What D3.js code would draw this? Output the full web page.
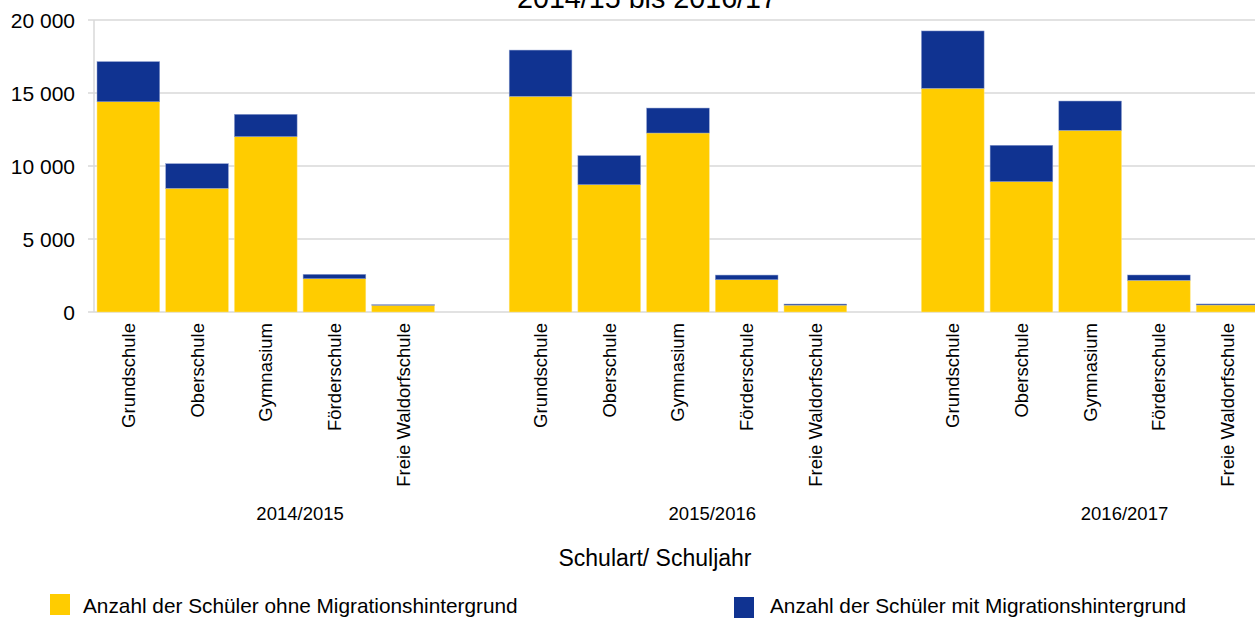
<!DOCTYPE html>
<html>
<head>
<meta charset="utf-8">
<script src="https://cdn.jsdelivr.net/npm/d3@7"></script>
<style>
  html, body { margin: 0; padding: 0; background: #fff; overflow: hidden; }
  svg { display: block; font-family: "Liberation Sans", Arial, sans-serif; }
</style>
</head>
<body>
<svg id="chart" width="1255" height="619"></svg>
<script>
// ---- data ----
const years = ["2014/2015", "2015/2016", "2016/2017"];
const schoolTypes = ["Grundschule", "Oberschule", "Gymnasium", "Förderschule", "Freie Waldorfschule"];
// Anzahl der Schüler ohne Migrationshintergrund (per year, per school type)
const ohneMigration = [
  [14400, 8470, 12010, 2280, 460],
  [14770, 8720, 12260, 2210, 470],
  [15320, 8930, 12440, 2170, 480]
];
// Anzahl der Schüler mit Migrationshintergrund
const mitMigration = [
  [2750, 1690, 1530, 300, 40],
  [3170, 1990, 1710, 320, 75],
  [3930, 2490, 2010, 365, 70]
];
const yTicks = [0, 5000, 10000, 15000, 20000];
const seriesNames = ["Anzahl der Schüler ohne Migrationshintergrund", "Anzahl der Schüler mit Migrationshintergrund"];
const colors = ["#FFCC00", "#103391"];
const titleText = "2014/15 bis 2016/17";
const xAxisTitle = "Schulart/ Schuljahr";

(function () {
// ---- layout ----
const svg = d3.select("#chart");
const W = 1255;
const plotLeft = 94, plotTop = 20, plotBottom = 312;
const step = 68.7;
const slotsPerGroup = schoolTypes.length + 1; // one empty slot after each group
const rightEnd = plotLeft + years.length * slotsPerGroup * step;

// slot keys incl. gap slots
const slots = [];
years.forEach(yr => {
  schoolTypes.forEach(s => slots.push(yr + "|" + s));
  slots.push(yr + "|gap");
});

const pad = 6 / step;
const x = d3.scaleBand().domain(slots).range([plotLeft, rightEnd]).paddingInner(pad).paddingOuter(pad / 2);
const xg = d3.scaleBand().domain(years).range([plotLeft, rightEnd]).padding(0);
const y = d3.scaleLinear().domain([0, 20000]).range([plotBottom, plotTop]);

// gridlines
svg.append("g").selectAll("line").data(yTicks).join("line")
  .attr("x1", plotLeft - 6).attr("x2", W)
  .attr("y1", d => y(d)).attr("y2", d => y(d))
  .attr("stroke", "#d9d9d9").attr("stroke-width", 1.5);
// y axis line
svg.append("line").attr("x1", plotLeft).attr("x2", plotLeft).attr("y1", plotTop).attr("y2", plotBottom)
  .attr("stroke", "#d9d9d9").attr("stroke-width", 1.5);

// y tick labels
svg.append("g").selectAll("text").data(yTicks).join("text")
  .attr("x", 75).attr("y", d => y(d))
  .attr("text-anchor", "end").attr("dominant-baseline", "central")
  .attr("font-size", 21).attr("fill", "#000")
  .text(d => d3.format(",")(d).replace(/,/g, " "));

// stacked bars
const rows = [];
years.forEach((yr, gi) => {
  schoolTypes.forEach((s, si) => {
    rows.push({ key: yr + "|" + s, ohne: ohneMigration[gi][si], mit: mitMigration[gi][si] });
  });
});
const stack = d3.stack().keys(["ohne", "mit"])(rows);
const barsG = svg.append("g");
stack.forEach((layer, li) => {
  barsG.append("g").attr("fill", colors[li])
    .selectAll("rect").data(layer).join("rect")
    .attr("x", d => x(d.data.key))
    .attr("width", x.bandwidth())
    .attr("y", d => y(d[1]))
    .attr("height", d => y(d[0]) - y(d[1]))
    .attr("stroke", li === 1 ? "#8fa0d0" : "#ffe680")
    .attr("stroke-width", 0.5);
});

// category labels (rotated)
svg.append("g").selectAll("text").data(rows).join("text")
  .attr("transform", d => `translate(${x(d.key) + x.bandwidth() / 2},${plotBottom + 11}) rotate(-90)`)
  .attr("text-anchor", "end").attr("dominant-baseline", "central")
  .attr("font-size", 18.5).attr("fill", "#000")
  .text(d => d.key.split("|")[1]);

// group labels
svg.append("g").selectAll("text").data(years).join("text")
  .attr("x", d => xg(d) + xg.bandwidth() / 2).attr("y", 520)
  .attr("text-anchor", "middle").attr("font-size", 18.5).attr("fill", "#000")
  .text(d => d);

// axis title
svg.append("text").attr("x", 655).attr("y", 566)
  .attr("text-anchor", "middle").attr("font-size", 23).attr("fill", "#000")
  .text(xAxisTitle);

// chart title (partly cut off at top, as in the reference)
svg.append("text").attr("x", 647).attr("y", 7.5)
  .attr("text-anchor", "middle").attr("font-size", 28.7).attr("fill", "#000")
  .text(titleText);

// legend
const legendPos = [{ sx: 50, sy: 594, tx: 83 }, { sx: 734, sy: 597, tx: 770 }];
const lg = svg.append("g");
seriesNames.forEach((name, i) => {
  const p = legendPos[i];
  lg.append("rect").attr("x", p.sx).attr("y", p.sy).attr("width", 20).attr("height", 21).attr("fill", colors[i]);
  lg.append("text").attr("x", p.tx).attr("y", 613.3).attr("font-size", 20.8).attr("fill", "#000").text(name);
});
})();
</script>
</body>
</html>
